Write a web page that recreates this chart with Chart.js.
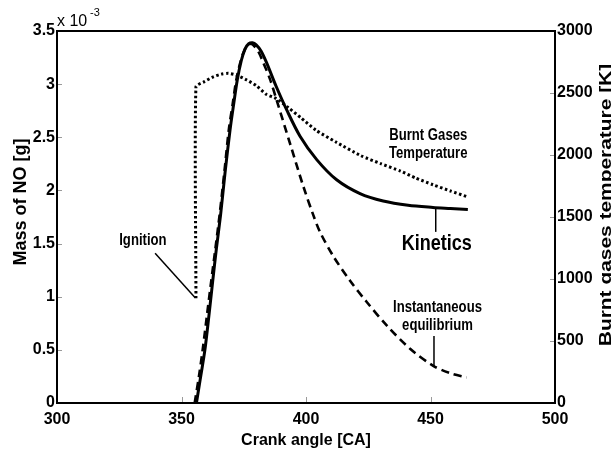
<!DOCTYPE html>
<html>
<head>
<meta charset="utf-8">
<script src="https://cdn.jsdelivr.net/npm/chart.js@4.4.1/dist/chart.umd.min.js"></script>
<style>
    html, body { margin: 0; padding: 0; background: #fff; }
    #wrap { width: 611px; height: 457px; }
</style>
</head>
<body>
<div id="wrap"><canvas id="noChart" width="611" height="457"></canvas></div>
<script>
// crank angle [CA] / mass of NO [g x 1e-3] - kinetic model
const kineticsAngle = [356, 357.5, 359.4, 361, 362.5, 364, 365.7, 367.5, 369.5, 371, 372.4, 374, 375.5, 377, 378.5, 380, 382, 384.2, 388, 392.2, 397.6, 404.3, 412.3, 421.7, 431, 441, 451, 458, 465];
const kineticsNO = [0, 0.22, 0.5, 0.82, 1.14, 1.45, 1.77, 2.17, 2.57, 2.82, 3.04, 3.22, 3.33, 3.38, 3.39, 3.37, 3.31, 3.2, 2.98, 2.76, 2.51, 2.29, 2.1, 1.97, 1.9, 1.86, 1.84, 1.83, 1.82];

// instantaneous equilibrium
const equilibriumAngle = [355.3, 357, 358.5, 360.2, 361.9, 363.6, 365.3, 367.2, 369, 370.6, 372, 373.8, 375.5, 377, 378, 379.5, 381, 382.9, 385.5, 388.2, 393.6, 398.9, 402.9, 405.6, 411, 417.7, 424.4, 432.4, 441.8, 451.1, 458, 464.5];
const equilibriumNO = [0, 0.25, 0.5, 0.82, 1.14, 1.45, 1.77, 2.17, 2.57, 2.82, 3.04, 3.22, 3.33, 3.37, 3.38, 3.35, 3.3, 3.2, 3.05, 2.85, 2.44, 2.04, 1.77, 1.61, 1.38, 1.15, 0.95, 0.73, 0.51, 0.35, 0.28, 0.24];

// burnt gases temperature [K] (right axis)
const temperatureAngle = [355.8, 355.8, 359, 362.8, 366, 368.8, 372, 376.2, 380, 384, 388, 393, 398, 404, 412, 422, 430, 438, 444, 451, 458, 464.5];
const temperatureK = [844, 2551, 2590, 2631, 2652, 2659, 2645, 2605, 2560, 2490, 2455, 2380, 2300, 2200, 2105, 1995, 1930, 1870, 1815, 1760, 1710, 1665];

const xMin = 300, xMax = 500, xStep = 50;
const noMax = 3.5, noStep = 0.5;
const tempMax = 3000, tempStep = 500;

// callouts: text lines placed in data coords (left axis), pointer segments
const callouts = [
    { lines: ['Ignition'], x: 334.5, y: 1.53, size: 16, line: [339.4, 1.41, 355.5, 0.99] },
    { lines: ['Burnt Gases', 'Temperature'], x: 449.1, y: 2.52, size: 16, line: null },
    { lines: ['Kinetics'], x: 452.5, y: 1.5, size: 22, line: [452.1, 1.84, 452.1, 1.61] },
    { lines: ['Instantaneous', 'equilibrium'], x: 452.8, y: 0.9, size: 16, line: [451.4, 0.63, 451.4, 0.34] }
];

function toPoints(xs, ys) {
    return xs.map((x, i) => ({ x: x, y: ys[i] }));
}

// text drawn with a horizontal squeeze, the source uses a narrow face
function narrowText(ctx, text, x, y, size, squeeze) {
    ctx.save();
    ctx.translate(x, y);
    ctx.scale(squeeze, 1);
    ctx.font = 'bold ' + size + 'px "Liberation Sans", Arial, sans-serif';
    ctx.textAlign = 'center';
    ctx.textBaseline = 'middle';
    ctx.fillText(text, 0, 0);
    ctx.restore();
}

function rotatedTitle(ctx, text, x, y, size, stretch, baseline) {
    ctx.save();
    ctx.translate(x, y);
    ctx.rotate(-Math.PI / 2);
    ctx.scale(stretch, 1);
    ctx.font = 'bold ' + size + 'px "Liberation Sans", Arial, sans-serif';
    ctx.textAlign = 'center';
    ctx.textBaseline = baseline;
    ctx.fillText(text, 0, 0);
    ctx.restore();
}

const overlay = {
    id: 'overlay',
    afterDraw(chart) {
        const ctx = chart.ctx;
        const area = chart.chartArea;
        const x = chart.scales.x, y = chart.scales.y, y1 = chart.scales.y1;
        ctx.save();

        // top frame
        ctx.strokeStyle = '#000';
        ctx.lineWidth = 2;
        ctx.beginPath();
        ctx.moveTo(area.left - 1, area.top);
        ctx.lineTo(area.right + 1, area.top);
        ctx.stroke();

        // small inward ticks
        ctx.strokeStyle = '#9a9a9a';
        ctx.lineWidth = 1;
        ctx.beginPath();
        for (let v = xMin + xStep; v < xMax; v += xStep) {
            const px = Math.round(x.getPixelForValue(v)) + 0.5;
            ctx.moveTo(px, area.bottom - 1);
            ctx.lineTo(px, area.bottom - 6);
        }
        for (let v = noStep; v < noMax; v += noStep) {
            const py = Math.round(y.getPixelForValue(v)) + 0.5;
            ctx.moveTo(area.left + 1, py);
            ctx.lineTo(area.left + 5, py);
        }
        for (let v = tempStep; v < tempMax; v += tempStep) {
            const py = Math.round(y1.getPixelForValue(v)) + 0.5;
            ctx.moveTo(area.right - 1, py);
            ctx.lineTo(area.right - 5, py);
        }
        ctx.stroke();

        // callouts
        ctx.fillStyle = '#000';
        ctx.strokeStyle = '#000';
        ctx.lineWidth = 1.5;
        callouts.forEach(function (c) {
            const cx = x.getPixelForValue(c.x);
            const cy = y.getPixelForValue(c.y);
            c.lines.forEach(function (t, i) {
                narrowText(ctx, t, cx, cy + i * c.size * 1.15, c.size, 0.82);
            });
            if (c.line) {
                ctx.beginPath();
                ctx.moveTo(x.getPixelForValue(c.line[0]), y.getPixelForValue(c.line[1]));
                ctx.lineTo(x.getPixelForValue(c.line[2]), y.getPixelForValue(c.line[3]));
                ctx.stroke();
            }
        });

        // axis titles
        ctx.fillStyle = '#000';
        rotatedTitle(ctx, 'Mass of NO [g]', 21, (area.top + area.bottom) / 2 - 15, 18, 1, 'middle');
        rotatedTitle(ctx, 'Burnt gases temperature [K]', 611, (area.top + area.bottom) / 2 - 12, 17, 1.23, 'alphabetic');
        ctx.font = 'bold 16px "Liberation Sans", Arial, sans-serif';
        ctx.textAlign = 'center';
        ctx.textBaseline = 'middle';
        ctx.fillText('Crank angle [CA]', (area.left + area.right) / 2, 441);

        // exponent
        ctx.textAlign = 'left';
        ctx.font = '16px "Liberation Sans", Arial, sans-serif';
        ctx.fillText('x 10', area.left, 22);
        ctx.font = '11px "Liberation Sans", Arial, sans-serif';
        ctx.fillText('-3', area.left + 33, 13);

        ctx.restore();
    }
};

const tickFont = { family: '"Liberation Sans", Arial, sans-serif', size: 16, weight: 'bold' };

new Chart(document.getElementById('noChart'), {
    type: 'scatter',
    data: {
        datasets: [{
            label: 'Kinetics',
            data: toPoints(kineticsAngle, kineticsNO),
            yAxisID: 'y',
            showLine: true,
            borderColor: '#000',
            borderWidth: 3,
            tension: 0.3,
            pointRadius: 0
        }, {
            label: 'Instantaneous equilibrium',
            data: toPoints(equilibriumAngle, equilibriumNO),
            yAxisID: 'y',
            showLine: true,
            borderColor: '#000',
            borderWidth: 2.6,
            borderDash: [8, 5],
            tension: 0.3,
            pointRadius: 0
        }, {
            label: 'Burnt Gases Temperature',
            data: toPoints(temperatureAngle, temperatureK),
            yAxisID: 'y1',
            showLine: true,
            borderColor: '#000',
            borderWidth: 3,
            borderDash: [2.5, 2.5],
            tension: 0.2,
            pointRadius: 0
        }]
    },
    options: {
        responsive: false,
        animation: false,
        events: [],
        layout: { padding: { top: 31, left: 0, right: 0, bottom: 0 } },
        plugins: {
            legend: { display: false },
            tooltip: { enabled: false }
        },
        scales: {
            x: {
                type: 'linear',
                min: xMin,
                max: xMax,
                grid: { display: false, drawTicks: false },
                border: { display: true, color: '#000', width: 2 },
                ticks: { stepSize: xStep, color: '#000', font: tickFont, padding: 7, callback: (v) => String(v) },
                afterFit: (scale) => { scale.height = 54; }
            },
            y: {
                position: 'left',
                min: 0,
                max: noMax,
                grid: { display: false, drawTicks: false },
                border: { display: true, color: '#000', width: 2 },
                ticks: { stepSize: noStep, color: '#000', font: tickFont, padding: 2, callback: (v) => String(v) },
                afterFit: (scale) => { scale.width = 57; }
            },
            y1: {
                position: 'right',
                min: 0,
                max: tempMax,
                grid: { display: false, drawTicks: false },
                border: { display: true, color: '#000', width: 2 },
                ticks: { stepSize: tempStep, color: '#000', font: tickFont, padding: 2, callback: (v) => String(v) },
                afterFit: (scale) => { scale.width = 56; }
            }
        }
    },
    plugins: [overlay]
});
</script>
</body>
</html>
